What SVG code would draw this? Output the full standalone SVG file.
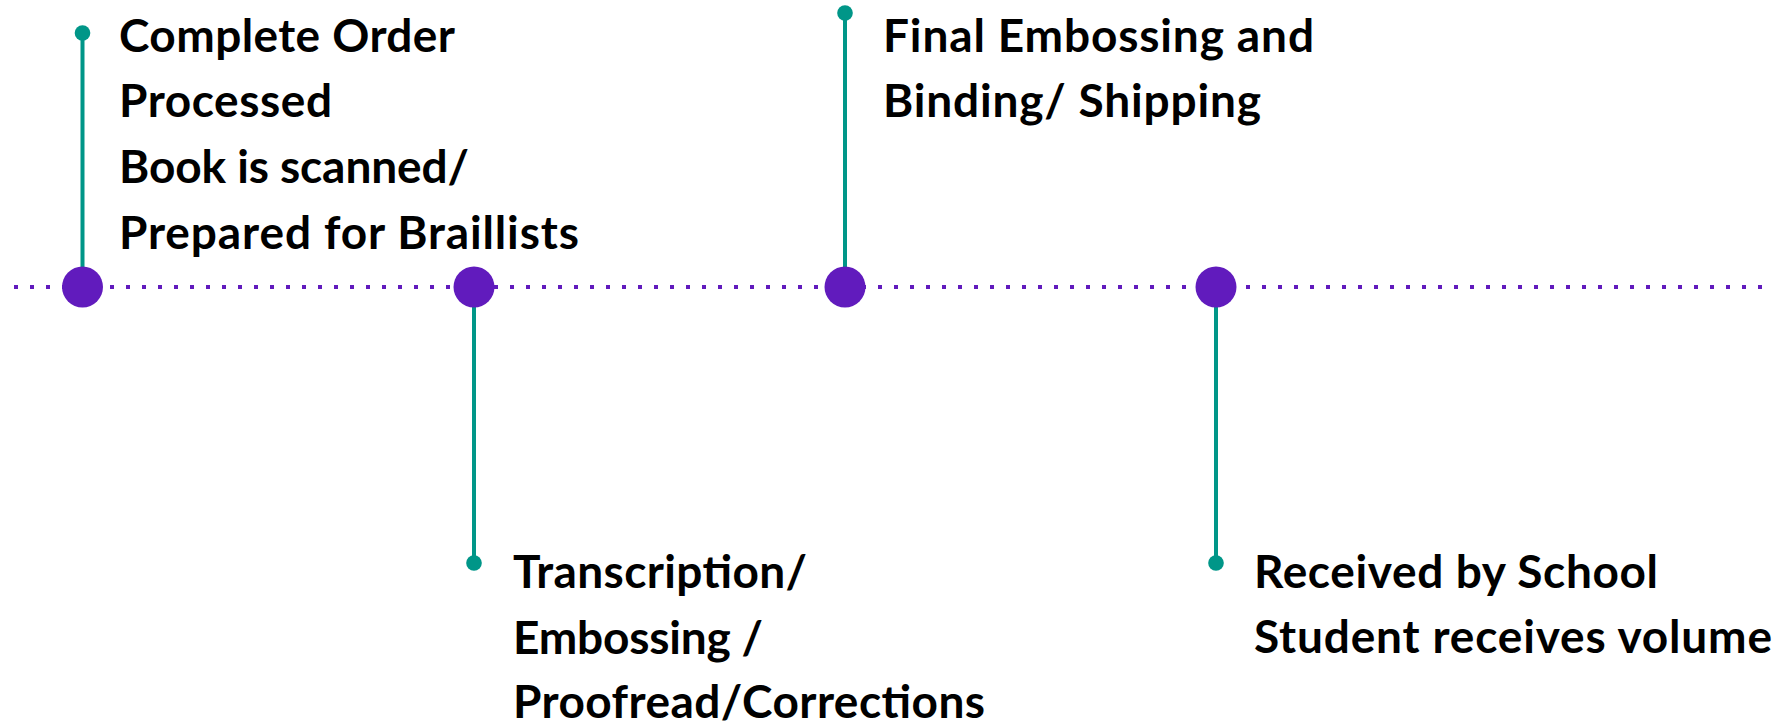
<svg xmlns="http://www.w3.org/2000/svg" width="1792" height="727" viewBox="0 0 1792 727">
<style>
.t{font-family:Lato,"Liberation Sans",sans-serif;font-weight:700;font-size:46px;fill:#000}
.stem{stroke:#009688;stroke-width:4;fill:none}
.tip{fill:#009688}
.node{fill:#611bbd}
.axis{stroke:#611bbd;stroke-width:4;stroke-dasharray:4 12;fill:none}
</style>
<rect width="1792" height="727" fill="#fff"/>
<g id="connectors">
<line class="axis" x1="14" y1="287" x2="1766" y2="287"/>
<line class="stem" x1="82.5" y1="33" x2="82.5" y2="287"/>
<line class="stem" x1="474" y1="287" x2="474" y2="563"/>
<line class="stem" x1="845" y1="13" x2="845" y2="287"/>
<line class="stem" x1="1216" y1="287" x2="1216" y2="563"/>
</g>
<g id="step1">
<circle class="tip" cx="82.5" cy="33" r="7.8"/>
<circle class="node" cx="82.5" cy="287" r="20.5"/>
<text class="t" x="119" y="52" textLength="336">Complete Order</text>
<text class="t" x="119" y="117" textLength="213">Processed</text>
<text class="t" x="119" y="183" textLength="350">Book is scanned/</text>
<text class="t" x="119" y="249" textLength="460">Prepared for Braillists</text>
</g>
<g id="step2">
<circle class="tip" cx="474" cy="563" r="7.8"/>
<circle class="node" cx="474" cy="287" r="20.5"/>
<text class="t" x="513" y="588" textLength="294">Transcription/</text>
<text class="t" x="513" y="654" textLength="250">Embossing /</text>
<text class="t" x="513" y="718" textLength="472">Proofread/Corrections</text>
</g>
<g id="step3">
<circle class="tip" cx="845" cy="13" r="7.8"/>
<circle class="node" cx="845" cy="287" r="20.5"/>
<text class="t" x="883" y="52" textLength="431">Final Embossing and</text>
<text class="t" x="883" y="117" textLength="378">Binding/ Shipping</text>
</g>
<g id="step4">
<circle class="tip" cx="1216" cy="563" r="7.8"/>
<circle class="node" cx="1216" cy="287" r="20.5"/>
<text class="t" x="1254" y="588" textLength="404">Received by School</text>
<text class="t" x="1254" y="653" textLength="518">Student receives volume</text>
</g>
</svg>
